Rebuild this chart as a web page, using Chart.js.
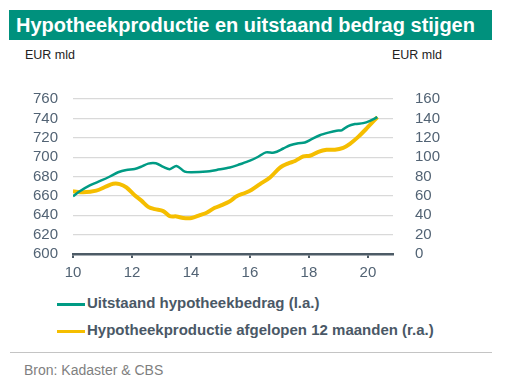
<!DOCTYPE html>
<html>
<head>
<meta charset="utf-8">
<script src="https://cdn.jsdelivr.net/npm/chart.js@4"></script>
<style>
  body { margin: 0; background: #fff; font-family: "Liberation Sans", Arial, sans-serif; }
  #wrap { position: relative; width: 507px; height: 384px; }
  #title { position: absolute; left: 9px; top: 10px; width: 483px; height: 30px; background: #00917d;
           color: #fff; font-weight: bold; font-size: 20px; line-height: 30px; padding-left: 7px; box-sizing: border-box; white-space: nowrap; }
  .unit { position: absolute; top: 48px; font-size: 12.5px; color: #222; }
  #chartBox { position: absolute; left: 0; top: 75px; width: 507px; height: 210px; }
  .leg { position: absolute; left: 57px; font-size: 15px; font-weight: bold; color: #4a5866; white-space: nowrap; }
  .leg span { display: inline-block; width: 28px; height: 3px; vertical-align: middle; margin-right: 2px; }
  #sep { position: absolute; left: 10px; top: 352px; width: 482px; height: 1px; background: #c4c4c4; }
  #src { position: absolute; left: 24px; top: 362px; font-size: 14px; color: #7f7f7f; }
</style>
</head>
<body>
<div id="wrap">
  <div id="title">Hypotheekproductie en uitstaand bedrag stijgen</div>
  <div class="unit" style="left:25px">EUR mld</div>
  <div class="unit" style="left:392px">EUR mld</div>
  <div id="chartBox"><canvas id="chart"></canvas></div>
  <div id="legend"></div>
  <div id="sep"></div>
  <div id="src">Bron: Kadaster &amp; CBS</div>
</div>
<script>
// jaartallen (x) en waarden
const tealYears = [10.0, 10.23, 10.57, 10.96, 11.25, 11.53, 11.81, 12.09, 12.32, 12.55, 12.81, 13.06, 13.28, 13.51, 13.79, 14.02,
    14.53, 14.87, 15.32, 15.66, 16.0, 16.28, 16.54, 16.82, 17.13, 17.36, 17.64, 17.86, 18.09, 18.37, 18.66, 18.94, 19.11,
    19.33, 19.56, 19.84, 20.07, 20.32];
const tealValues = [659.6, 664.7, 670.8, 675.9, 680, 684.4, 686.8, 687.8, 690.2, 693.3, 693.6, 689.9, 687.5, 690.9, 685.1, 684.4,
    685.1, 686.8, 689.2, 692.6, 696.3, 700.4, 704.9, 704.7, 708.9, 712.3, 714.4, 715.1, 718.5, 722.6, 725.3, 727.3, 727.7,
    732.1, 734.1, 735.1, 737.5, 741.3];

const yellowYears = [10.0, 10.34, 10.79, 11.13, 11.36, 11.58, 11.81, 12.09, 12.32, 12.55, 12.77, 13.06, 13.28, 13.51, 13.74, 14.02,
    14.30, 14.53, 14.81, 15.04, 15.32, 15.55, 15.83, 16.06, 16.34, 16.68, 17.02, 17.30, 17.53, 17.81, 18.03, 18.32, 18.60,
    18.88, 19.16, 19.39, 19.67, 19.95, 20.32];
const yellowValues = [64.7, 63.7, 65.4, 69.8, 72.5, 72.2, 68.8, 60.6, 55.1, 48.7, 46.3, 44.3, 39.1, 38.8, 37.1, 37.1,
    40.2, 42.6, 47.7, 50.4, 54.5, 59.6, 63.0, 66.4, 72.2, 79.0, 89.2, 93.6, 96.0, 100.8, 101.4, 105.5, 107.6,
    107.6, 109.6, 113.7, 120.9, 129.4, 141.3];

const xTicks = [10, 12, 14, 16, 18, 20];
const leftTicks = [600, 620, 640, 660, 680, 700, 720, 740, 760];
const rightTicks = [0, 20, 40, 60, 80, 100, 120, 140, 160];

const labels = ['Uitstaand hypotheekbedrag (l.a.)', 'Hypotheekproductie afgelopen 12 maanden (r.a.)'];
const colors = ['#009b84', '#f5be00'];

const tickColor = '#526374';
const axisColor = '#4d5b66';

function pts(xs, ys) {
    return xs.map((x, i) => ({x: x, y: ys[i]}));
}

const ctx = document.querySelector('#chart').getContext('2d');
const chart = new Chart(ctx, {
    type: 'line',
    data: {
        datasets: [{
            label: labels[0],
            data: pts(tealYears, tealValues),
            borderColor: colors[0],
            borderWidth: 2.5,
            yAxisID: 'yL',
            tension: 0.3
        },
            {
                label: labels[1],
                data: pts(yellowYears, yellowValues),
                borderColor: colors[1],
                borderWidth: 4,
                yAxisID: 'yR',
                tension: 0.3
            }
        ]
    },
    options: {
        animation: false,
        responsive: true,
        maintainAspectRatio: false,
        elements: {
            point: {
                radius: 0
            }
        },
        layout: {
            padding: {top: 3, left: 0, right: 0, bottom: 0}
        },
        plugins: {
            legend: {display: false},
            tooltip: {enabled: false}
        },
        scales: {
            x: {
                type: 'linear',
                min: 10,
                max: 20.85,
                afterBuildTicks: s => { s.ticks = xTicks.map(v => ({value: v})); },
                afterFit: s => { s.height = 31; },
                grid: {
                    drawOnChartArea: false,
                    drawTicks: true,
                    tickLength: 4,
                    color: axisColor,
                    lineWidth: 2
                },
                border: {color: axisColor, width: 2.5},
                ticks: {
                    color: tickColor,
                    font: {family: 'Liberation Sans', size: 15},
                    padding: 6,
                    maxRotation: 0,
                    autoSkip: false
                }
            },
            yL: {
                position: 'left',
                min: 600,
                max: 760,
                afterBuildTicks: s => { s.ticks = leftTicks.map(v => ({value: v})); },
                afterFit: s => { s.width = 73; },
                grid: {
                    color: c => c.tick.value === 600 ? 'rgba(0,0,0,0)' : '#d9d9d9',
                    lineWidth: 1.2,
                    drawTicks: false
                },
                border: {display: false},
                ticks: {
                    color: tickColor,
                    font: {family: 'Liberation Sans', size: 15},
                    padding: 15,
                    autoSkip: false
                }
            },
            yR: {
                position: 'right',
                min: 0,
                max: 160,
                afterBuildTicks: s => { s.ticks = rightTicks.map(v => ({value: v})); },
                afterFit: s => { s.width = 114; },
                grid: {display: false},
                border: {display: false},
                ticks: {
                    color: tickColor,
                    font: {family: 'Liberation Sans', size: 15},
                    padding: 14,
                    autoSkip: false
                }
            }
        }
    }
});

// legenda onder de grafiek
const legend = document.querySelector('#legend');
labels.forEach((l, i) => {
    const d = document.createElement('div');
    d.className = 'leg';
    d.style.top = (294 + i * 27) + 'px';
    d.innerHTML = '<span style="background:' + colors[i] + '"></span>' + l;
    legend.appendChild(d);
});
</script>
</body>
</html>
